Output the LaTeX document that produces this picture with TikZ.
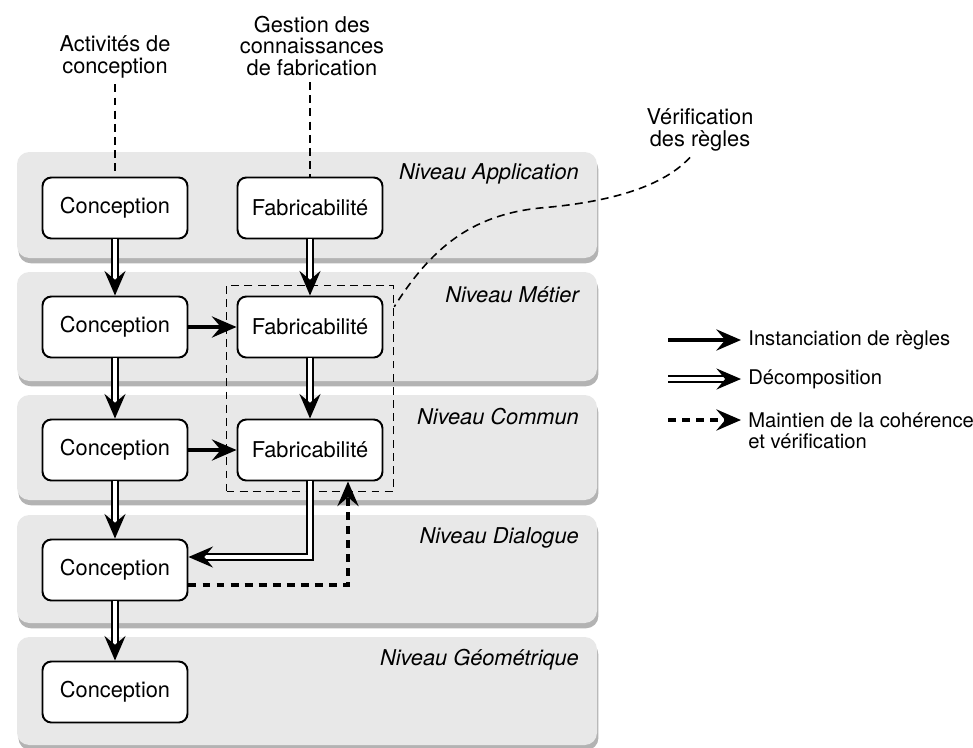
\documentclass[tikz,border=0pt]{standalone}
\usepackage{fontspec}
\setmainfont{TeX Gyre Heros}
\usetikzlibrary{%
  arrows.meta,
  fit,
  shadows
}

\tikzset{
  niveau/.style={fill=black!9, rounded corners=7pt,
    drop shadow={shadow xshift=0.8pt, shadow yshift=-3pt, opacity=0.6}},
  bloc/.style={draw, fill=white, line width=1.1pt, rounded corners=5pt,
    minimum width=2.9cm, minimum height=1.22cm},
  nomniveau/.style={anchor=east, font=\fontsize{12.4}{12.3}\selectfont\itshape},
  pointe/.style={-{Stealth[length=14pt,width=12pt,inset=5pt]}},
  instanc/.style={line width=2.4pt, pointe},
  decomp/.style={draw=black, double=white, double distance=2.4pt, line width=0.9pt,
    pointe},
  coher/.style={line width=2.2pt, dash pattern=on 4.5pt off 3.5pt, pointe},
  lien/.style={line width=0.9pt, dash pattern=on 4.5pt off 3pt},
  legende/.style={anchor=west, inner sep=4pt, font=\fontsize{11.5}{12}\selectfont}
}

\begin{document}
\begin{tikzpicture}[x=0.02cm, y=-0.02cm, font=\fontsize{12.4}{12.3}\selectfont]

  \useasboundingbox (0,0) rectangle (973,747);

  \fill[niveau] (17,152) rectangle (597,258);
  \fill[niveau] (17,272) rectangle (597,381);
  \fill[niveau] (17,395) rectangle (597,500);
  \fill[niveau] (17,515) rectangle (597,623);
  \fill[niveau] (17,637) rectangle (597,745);

  \node[nomniveau] (napp) at (585,174) {Niveau Application};
  \node[nomniveau] (nmet) at (585,295) {Niveau Métier};
  \node[nomniveau] (ncom) at (585,417) {Niveau Commun};
  \node[nomniveau] (ndia) at (585,538) {Niveau Dialogue};
  \node[nomniveau] (ngeo) at (585,660) {Niveau Géométrique};

  \node[bloc] (c1) at (115,208) {Conception};
  \node[bloc] (c2) at (115,327) {Conception};
  \node[bloc] (c3) at (115,450) {Conception};
  \node[bloc] (c4) at (115,570) {Conception};
  \node[bloc] (c5) at (115,692) {Conception};

  \node[bloc] (f1) at (310,208) {Fabricabilité};
  \node[bloc] (f2) at (310,327) {Fabricabilité};
  \node[bloc] (f3) at (310,450) {Fabricabilité};

  \node[draw, lien, fit=(f2)(f3), inner sep=0.2cm] (verif) {};

  \node[align=center] (activ) at (115,57) {Activités de\\conception};
  \node[align=center] (gest) at (312,46) {Gestion des\\connaissances\\de fabrication};
  \node[align=center] (regles) at (700,130) {Vérification\\des règles};

  \draw[lien] (activ.south) -- (c1.north);
  \draw[lien] (gest.south -| f1.north) -- (f1.north);
  \draw[lien] ([xshift=-0.2cm]regles.south)
    .. controls (660,190) and (600,203) .. (540,208)
    .. controls (470,215) and (430,250) .. ([yshift=-0.44cm]verif.north east);

  \draw[decomp] (c1.south) -- (c2.north);
  \draw[decomp] (c2.south) -- (c3.north);
  \draw[decomp] (c3.south) -- (c4.north);
  \draw[decomp] (c4.south) -- (c5.north);
  \draw[decomp] (f1.south) -- (f2.north);
  \draw[decomp] (f2.south) -- (f3.north);
  \draw[decomp] (f3.south) |- ([yshift=0.26cm]c4.east);

  \draw[instanc] (c2.east) -- (f2.west);
  \draw[instanc] (c3.east) -- (f3.west);

  \draw[coher] ([yshift=-0.3cm]c4.east) -| ([xshift=0.76cm]f3.south);

  \node[legende] (leg1) at (741,340) {Instanciation de règles};
  \node[legende] (leg2) at (741,379) {Décomposition};
  \node[legende] (leg3) at (741,420) {Maintien de la cohérence};
  \node[legende] (leg3b) at ([yshift=-0.42cm]leg3.west) {et vérification};
  \coordinate (li) at (668,340);
  \coordinate (ld) at (668,379);
  \coordinate (lc) at (668,420);
  \draw[instanc] (li) -- (leg1.west);
  \draw[decomp] (ld) -- (leg2.west);
  \draw[coher] (lc) -- (leg3.west);
\end{tikzpicture}
\end{document}
